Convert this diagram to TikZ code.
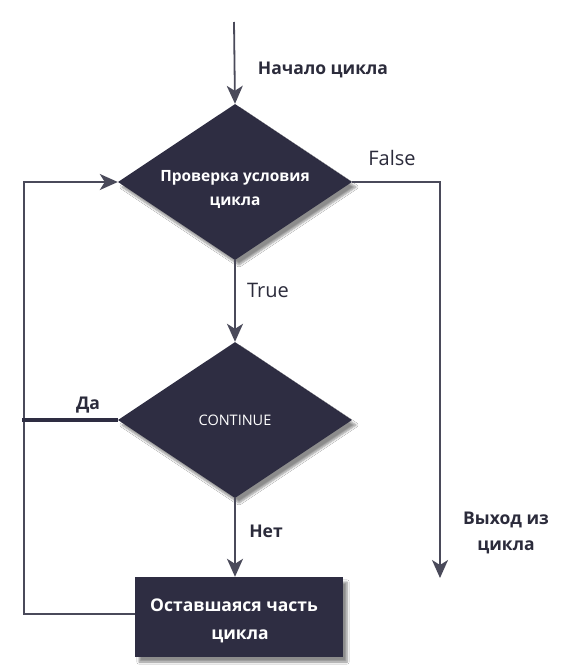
\documentclass[tikz,border=0pt]{standalone}
\usepackage{fontspec}
\setmainfont{Open Sans}
\usetikzlibrary{shapes.geometric,arrows.meta,shadows.blur}
\definecolor{ink}{HTML}{2E2D42}
\definecolor{wire}{HTML}{4A4A5A}
\definecolor{txt}{HTML}{2B2B3B}
% two centred lines, moved down by #1 while keeping the box size
\newcommand{\stacked}[2][0pt]{\raisebox{#1}[\height][\depth]{\begin{tabular}{@{}c@{}}#2\end{tabular}}}
\begin{document}
\begin{tikzpicture}[x=1pt,y=-1pt,
  shade/.style={blur shadow={shadow xshift=4pt,shadow yshift=-5pt,shadow blur steps=6,shadow opacity=45}},
  decision/.style={shape=diamond,fill=ink,shade,inner sep=0pt,aspect=1.5,
    minimum width=234pt,minimum height=156pt,text=white,align=center,font=\bfseries\fontsize{15.5}{24}\selectfont},
  block/.style={shape=rectangle,fill=ink,shade,inner sep=0pt,minimum width=208pt,minimum height=80pt,
    text=white,align=center,font=\bfseries\fontsize{17.5}{28}\selectfont},
  wirestyle/.style={draw=wire,line width=1.8pt},
  flow/.style={wirestyle,-{Stealth[length=18pt,width=16pt,inset=5pt]}},
  lbl/.style={text=txt,font=\bfseries\fontsize{17.5}{26}\selectfont},
  lblr/.style={text=txt,font=\fontsize{20}{24}\selectfont}]
\useasboundingbox (0,0) rectangle (579,672);
\fill[white] (0,0) rectangle (579,672);

% shapes
\node[decision] (check) at (235,182) {\stacked[-7pt]{Проверка условия\\цикла}};
\node[decision,font=\fontsize{14.5}{18}\selectfont] (cont) at (235,420) {CONTINUE};
\node[block] (rest) at (239,617) {\stacked[-3pt]{Оставшаяся часть\\\hspace*{12pt}цикла}\hspace*{10pt}};

% free ends of connectors
\coordinate (start) at (234,22);
\coordinate (falseturn) at (440,182);
\coordinate (exit) at (440,578);
\coordinate (loopbottom) at (24,614);
\coordinate (looptop) at (24,182);
\coordinate (yesend) at (22,420);

% connectors
\draw[flow] (start) -- (check.north);
\draw[flow] (check.south) -- (cont.north);
\draw[flow] (cont.south) -- (cont.south |- rest.north);
\draw[flow] (check.east) -- (falseturn) -- (exit);
\draw[flow] (rest.west |- loopbottom) -- (loopbottom) -- (looptop) -- (check.west);
\draw[draw=ink,line width=4pt] (cont.west) -- (yesend);

% labels
\node[lbl] (lstart) at (323,70) {Начало цикла};
\node[lblr] (lfalse) at (392,158) {False};
\node[lblr] (ltrue) at (268,290) {True};
\node[lbl] (lno) at (266,531) {Нет};
\node[lbl] (lyes) at (88,405) {Да};
\node[lbl,align=center] (lexit) at (506,533) {Выход из\\цикла};
\end{tikzpicture}
\end{document}
